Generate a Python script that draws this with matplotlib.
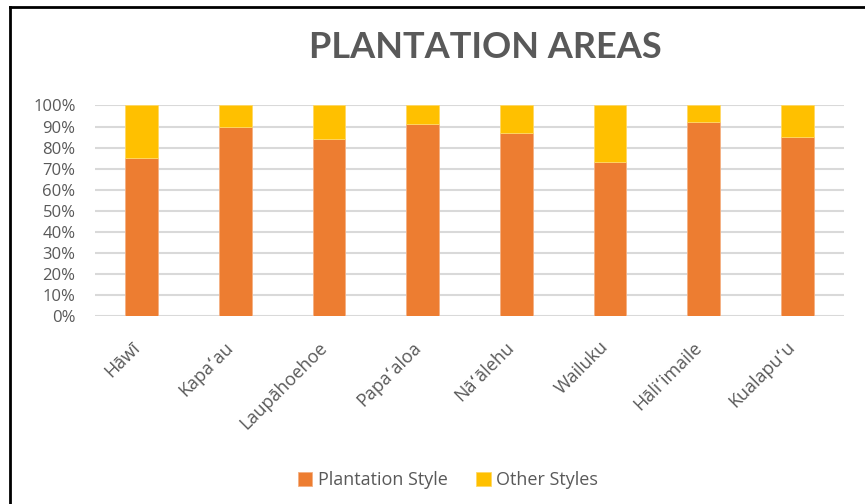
import matplotlib.pyplot as plt
import matplotlib.transforms as mtransforms
import numpy as np

places = ["Hāwī", "Kapaʻau", "Laupāhoehoe", "Papaʻaloa", "Nāʻālehu",
          "Wailuku", "Hāliʻimaile", "Kualapuʻu"]
plantation = [75, 90, 84, 91, 87, 73, 92, 85]
other = [25, 10, 16, 9, 13, 27, 8, 15]

orange = "#ED7D31"
yellow = "#FFC000"
txt = "#595959"

plt.rcParams['font.family'] = ['Open Sans', 'DejaVu Sans']

fig = plt.figure(figsize=(8.65, 5.04), dpi=100)
ax = fig.add_axes([95/865, 188/504, 749/865, 210.5/504])

x = np.arange(len(places))
ax.bar(x, plantation, width=0.35, color=orange, edgecolor="#F4B183", linewidth=0.6,
       label="Plantation Style", zorder=3)
ax.bar(x, other, width=0.35, bottom=plantation, color=yellow, edgecolor="#FFD966",
       linewidth=0.6, label="Other Styles", zorder=3)

ax.set_xlim(-0.5, len(places) - 0.5)
ax.set_ylim(0, 100)
ax.set_yticks(range(0, 101, 10))
ax.set_yticklabels([f"{v}%" for v in range(0, 101, 10)])
ax.yaxis.grid(True, color="#D9D9D9", linewidth=1.5, zorder=0)
ax.set_xticks(x)
ax.set_xticklabels(places, rotation=45, ha="right", rotation_mode="anchor")
ax.tick_params(axis="both", length=0, colors=txt)
ax.tick_params(axis="y", pad=14, labelsize=12)
ax.tick_params(axis="x", pad=16, labelsize=13)
shift = mtransforms.ScaledTranslation(-11/100, 0, fig.dpi_scale_trans)
for lab in ax.get_xticklabels():
    lab.set_transform(lab.get_transform() + shift)
for s in ax.spines.values():
    s.set_visible(False)

fig.text(485.5/865, 1 - 47/504, "PLANTATION AREAS", ha="center", va="center",
         fontsize=26, fontweight="bold", color=txt, family=["Lato", "DejaVu Sans"])

fig.legend(loc="center", bbox_to_anchor=(448/865, 1 - 480/504), ncol=2, frameon=False,
           fontsize=13, labelcolor=txt, handlelength=0.8, handleheight=0.8,
           handletextpad=0.3, columnspacing=1.6)

# chart frame (top and left edges visible)
fig.add_artist(plt.Line2D([9.5/865, 1], [1 - 6.5/504, 1 - 6.5/504], color="black", lw=2))
fig.add_artist(plt.Line2D([9.5/865, 9.5/865], [0, 1 - 6.5/504], color="black", lw=2))

fig.savefig("out.png", dpi=100)
